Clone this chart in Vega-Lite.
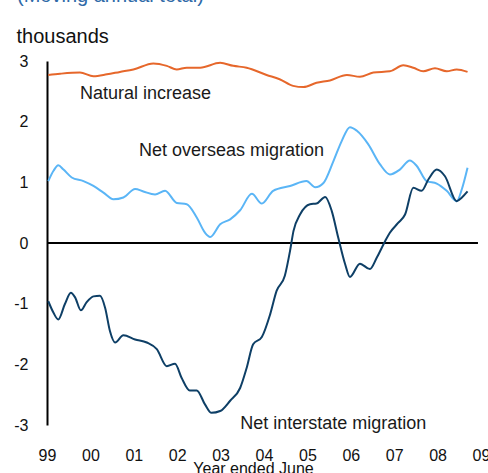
{
  "$schema": "https://vega.github.io/schema/vega-lite/v6.json",
  "width": 434,
  "height": 364,
  "autosize": {"type": "none"},
  "padding": {"left": 47, "top": 61, "right": 7, "bottom": 48},
  "background": "white",
  "config": {
    "view": {"stroke": null},
    "font": "Liberation Sans",
    "axis": {"grid": false, "ticks": false, "labelFont": "Liberation Sans", "titleFont": "Liberation Sans", "labelColor": "#111111", "titleColor": "#111111", "titleFontWeight": "normal", "labelFontSize": 16, "titleFontSize": 16}
  },
  "datasets": {
    "series": [
      {"t": 1999.03, "v": 2.77, "s": "Natural increase"},
      {"t": 1999.30, "v": 2.79, "s": "Natural increase"},
      {"t": 1999.76, "v": 2.81, "s": "Natural increase"},
      {"t": 2000.07, "v": 2.75, "s": "Natural increase"},
      {"t": 2000.38, "v": 2.78, "s": "Natural increase"},
      {"t": 2000.68, "v": 2.82, "s": "Natural increase"},
      {"t": 2000.99, "v": 2.86, "s": "Natural increase"},
      {"t": 2001.45, "v": 2.96, "s": "Natural increase"},
      {"t": 2001.76, "v": 2.92, "s": "Natural increase"},
      {"t": 2001.99, "v": 2.86, "s": "Natural increase"},
      {"t": 2002.22, "v": 2.89, "s": "Natural increase"},
      {"t": 2002.53, "v": 2.89, "s": "Natural increase"},
      {"t": 2002.99, "v": 2.97, "s": "Natural increase"},
      {"t": 2003.29, "v": 2.92, "s": "Natural increase"},
      {"t": 2003.60, "v": 2.89, "s": "Natural increase"},
      {"t": 2004.06, "v": 2.77, "s": "Natural increase"},
      {"t": 2004.36, "v": 2.70, "s": "Natural increase"},
      {"t": 2004.67, "v": 2.59, "s": "Natural increase"},
      {"t": 2004.91, "v": 2.57, "s": "Natural increase"},
      {"t": 2005.21, "v": 2.64, "s": "Natural increase"},
      {"t": 2005.52, "v": 2.68, "s": "Natural increase"},
      {"t": 2005.91, "v": 2.77, "s": "Natural increase"},
      {"t": 2006.21, "v": 2.74, "s": "Natural increase"},
      {"t": 2006.52, "v": 2.81, "s": "Natural increase"},
      {"t": 2006.90, "v": 2.83, "s": "Natural increase"},
      {"t": 2007.21, "v": 2.93, "s": "Natural increase"},
      {"t": 2007.44, "v": 2.89, "s": "Natural increase"},
      {"t": 2007.67, "v": 2.83, "s": "Natural increase"},
      {"t": 2007.94, "v": 2.88, "s": "Natural increase"},
      {"t": 2008.21, "v": 2.83, "s": "Natural increase"},
      {"t": 2008.44, "v": 2.86, "s": "Natural increase"},
      {"t": 2008.69, "v": 2.82, "s": "Natural increase"},

      {"t": 1999.03, "v": 1.02, "s": "Net overseas migration"},
      {"t": 1999.15, "v": 1.19, "s": "Net overseas migration"},
      {"t": 1999.26, "v": 1.28, "s": "Net overseas migration"},
      {"t": 1999.38, "v": 1.21, "s": "Net overseas migration"},
      {"t": 1999.57, "v": 1.08, "s": "Net overseas migration"},
      {"t": 1999.84, "v": 1.02, "s": "Net overseas migration"},
      {"t": 2000.07, "v": 0.94, "s": "Net overseas migration"},
      {"t": 2000.30, "v": 0.83, "s": "Net overseas migration"},
      {"t": 2000.53, "v": 0.72, "s": "Net overseas migration"},
      {"t": 2000.76, "v": 0.75, "s": "Net overseas migration"},
      {"t": 2001.03, "v": 0.89, "s": "Net overseas migration"},
      {"t": 2001.22, "v": 0.85, "s": "Net overseas migration"},
      {"t": 2001.49, "v": 0.80, "s": "Net overseas migration"},
      {"t": 2001.72, "v": 0.86, "s": "Net overseas migration"},
      {"t": 2001.99, "v": 0.66, "s": "Net overseas migration"},
      {"t": 2002.22, "v": 0.64, "s": "Net overseas migration"},
      {"t": 2002.45, "v": 0.42, "s": "Net overseas migration"},
      {"t": 2002.64, "v": 0.17, "s": "Net overseas migration"},
      {"t": 2002.76, "v": 0.10, "s": "Net overseas migration"},
      {"t": 2002.99, "v": 0.31, "s": "Net overseas migration"},
      {"t": 2003.22, "v": 0.39, "s": "Net overseas migration"},
      {"t": 2003.45, "v": 0.54, "s": "Net overseas migration"},
      {"t": 2003.72, "v": 0.81, "s": "Net overseas migration"},
      {"t": 2003.95, "v": 0.65, "s": "Net overseas migration"},
      {"t": 2004.21, "v": 0.86, "s": "Net overseas migration"},
      {"t": 2004.60, "v": 0.94, "s": "Net overseas migration"},
      {"t": 2004.98, "v": 1.02, "s": "Net overseas migration"},
      {"t": 2005.18, "v": 0.92, "s": "Net overseas migration"},
      {"t": 2005.37, "v": 0.99, "s": "Net overseas migration"},
      {"t": 2005.60, "v": 1.35, "s": "Net overseas migration"},
      {"t": 2005.79, "v": 1.68, "s": "Net overseas migration"},
      {"t": 2005.98, "v": 1.91, "s": "Net overseas migration"},
      {"t": 2006.14, "v": 1.85, "s": "Net overseas migration"},
      {"t": 2006.40, "v": 1.63, "s": "Net overseas migration"},
      {"t": 2006.67, "v": 1.30, "s": "Net overseas migration"},
      {"t": 2006.90, "v": 1.13, "s": "Net overseas migration"},
      {"t": 2007.13, "v": 1.21, "s": "Net overseas migration"},
      {"t": 2007.36, "v": 1.36, "s": "Net overseas migration"},
      {"t": 2007.52, "v": 1.27, "s": "Net overseas migration"},
      {"t": 2007.75, "v": 1.02, "s": "Net overseas migration"},
      {"t": 2007.98, "v": 0.98, "s": "Net overseas migration"},
      {"t": 2008.21, "v": 0.86, "s": "Net overseas migration"},
      {"t": 2008.44, "v": 0.69, "s": "Net overseas migration"},
      {"t": 2008.56, "v": 0.89, "s": "Net overseas migration"},
      {"t": 2008.69, "v": 1.24, "s": "Net overseas migration"},

      {"t": 1999.03, "v": -0.96, "s": "Net interstate migration"},
      {"t": 1999.15, "v": -1.15, "s": "Net interstate migration"},
      {"t": 1999.26, "v": -1.26, "s": "Net interstate migration"},
      {"t": 1999.41, "v": -1.01, "s": "Net interstate migration"},
      {"t": 1999.55, "v": -0.82, "s": "Net interstate migration"},
      {"t": 1999.65, "v": -0.90, "s": "Net interstate migration"},
      {"t": 1999.78, "v": -1.11, "s": "Net interstate migration"},
      {"t": 1999.91, "v": -0.98, "s": "Net interstate migration"},
      {"t": 2000.07, "v": -0.88, "s": "Net interstate migration"},
      {"t": 2000.22, "v": -0.87, "s": "Net interstate migration"},
      {"t": 2000.34, "v": -1.07, "s": "Net interstate migration"},
      {"t": 2000.45, "v": -1.45, "s": "Net interstate migration"},
      {"t": 2000.57, "v": -1.64, "s": "Net interstate migration"},
      {"t": 2000.76, "v": -1.52, "s": "Net interstate migration"},
      {"t": 2001.03, "v": -1.59, "s": "Net interstate migration"},
      {"t": 2001.30, "v": -1.64, "s": "Net interstate migration"},
      {"t": 2001.53, "v": -1.75, "s": "Net interstate migration"},
      {"t": 2001.76, "v": -2.03, "s": "Net interstate migration"},
      {"t": 2001.95, "v": -1.99, "s": "Net interstate migration"},
      {"t": 2002.10, "v": -2.22, "s": "Net interstate migration"},
      {"t": 2002.29, "v": -2.43, "s": "Net interstate migration"},
      {"t": 2002.45, "v": -2.43, "s": "Net interstate migration"},
      {"t": 2002.64, "v": -2.66, "s": "Net interstate migration"},
      {"t": 2002.79, "v": -2.80, "s": "Net interstate migration"},
      {"t": 2002.99, "v": -2.77, "s": "Net interstate migration"},
      {"t": 2003.22, "v": -2.60, "s": "Net interstate migration"},
      {"t": 2003.45, "v": -2.39, "s": "Net interstate migration"},
      {"t": 2003.60, "v": -2.06, "s": "Net interstate migration"},
      {"t": 2003.75, "v": -1.67, "s": "Net interstate migration"},
      {"t": 2003.95, "v": -1.55, "s": "Net interstate migration"},
      {"t": 2004.14, "v": -1.18, "s": "Net interstate migration"},
      {"t": 2004.29, "v": -0.79, "s": "Net interstate migration"},
      {"t": 2004.48, "v": -0.54, "s": "Net interstate migration"},
      {"t": 2004.60, "v": -0.13, "s": "Net interstate migration"},
      {"t": 2004.68, "v": 0.20, "s": "Net interstate migration"},
      {"t": 2004.83, "v": 0.47, "s": "Net interstate migration"},
      {"t": 2005.06, "v": 0.64, "s": "Net interstate migration"},
      {"t": 2005.21, "v": 0.65, "s": "Net interstate migration"},
      {"t": 2005.41, "v": 0.76, "s": "Net interstate migration"},
      {"t": 2005.56, "v": 0.53, "s": "Net interstate migration"},
      {"t": 2005.71, "v": 0.09, "s": "Net interstate migration"},
      {"t": 2005.87, "v": -0.35, "s": "Net interstate migration"},
      {"t": 2005.98, "v": -0.56, "s": "Net interstate migration"},
      {"t": 2006.21, "v": -0.34, "s": "Net interstate migration"},
      {"t": 2006.44, "v": -0.43, "s": "Net interstate migration"},
      {"t": 2006.60, "v": -0.24, "s": "Net interstate migration"},
      {"t": 2006.79, "v": 0.03, "s": "Net interstate migration"},
      {"t": 2006.90, "v": 0.17, "s": "Net interstate migration"},
      {"t": 2007.09, "v": 0.33, "s": "Net interstate migration"},
      {"t": 2007.25, "v": 0.47, "s": "Net interstate migration"},
      {"t": 2007.44, "v": 0.91, "s": "Net interstate migration"},
      {"t": 2007.63, "v": 0.86, "s": "Net interstate migration"},
      {"t": 2007.79, "v": 1.05, "s": "Net interstate migration"},
      {"t": 2007.98, "v": 1.21, "s": "Net interstate migration"},
      {"t": 2008.17, "v": 1.10, "s": "Net interstate migration"},
      {"t": 2008.44, "v": 0.69, "s": "Net interstate migration"},
      {"t": 2008.56, "v": 0.75, "s": "Net interstate migration"},
      {"t": 2008.69, "v": 0.85, "s": "Net interstate migration"}
    ]
  },
  "layer": [
    {
      "data": {"values": [{}]},
      "mark": {"type": "rule", "stroke": "#000000", "strokeWidth": 2},
      "encoding": {
        "x": {"datum": 1999, "type": "quantitative"},
        "x2": {"datum": 2008.93},
        "y": {"datum": 0, "type": "quantitative"}
      }
    },
    {
      "data": {"name": "series"},
      "mark": {"type": "line", "interpolate": "monotone", "strokeWidth": 2},
      "encoding": {
        "x": {
          "field": "t", "type": "quantitative",
          "scale": {"domain": [1999, 2009], "nice": false, "zero": false},
          "axis": {
            "values": [1999, 2000, 2001, 2002, 2003, 2004, 2005, 2006, 2007, 2008, 2009],
            "labelExpr": "substring(toString(datum.value), 2)",
            "domain": false,
            "labelPadding": 22,
            "labelFlush": false,
            "labelOverlap": false,
            "title": "Year ended  June",
            "titleX": 206,
            "titleY": 35,
            "titleBaseline": "top"
          }
        },
        "y": {
          "field": "v", "type": "quantitative",
          "scale": {"domain": [-3, 3], "nice": false},
          "axis": {
            "values": [-3, -2, -1, 0, 1, 2, 3],
            "labelExpr": "toString(datum.value)",
            "domain": true,
            "domainColor": "#000000",
            "domainWidth": 2,
            "labelPadding": 19,
            "title": "thousands",
            "titleAngle": 0,
            "titleAlign": "left",
            "titleBaseline": "middle",
            "titleX": -31,
            "titleY": -25,
            "titleFontSize": 20
          }
        },
        "color": {
          "field": "s", "type": "nominal",
          "scale": {
            "domain": ["Natural increase", "Net overseas migration", "Net interstate migration"],
            "range": ["#e6672b", "#5ab5f6", "#0e3f66"]
          },
          "legend": null
        }
      }
    },
    {
      "data": {"values": [{}]},
      "mark": {"type": "text", "align": "left", "baseline": "middle", "fontSize": 18, "color": "#1a1a1a"},
      "encoding": {
        "x": {"datum": 1999.76, "type": "quantitative"},
        "y": {"datum": 2.46, "type": "quantitative"},
        "text": {"value": "Natural increase"}
      }
    },
    {
      "data": {"values": [{}]},
      "mark": {"type": "text", "align": "left", "baseline": "middle", "fontSize": 18, "color": "#1a1a1a"},
      "encoding": {
        "x": {"datum": 2001.12, "type": "quantitative"},
        "y": {"datum": 1.52, "type": "quantitative"},
        "text": {"value": "Net overseas migration"}
      }
    },
    {
      "data": {"values": [{}]},
      "mark": {"type": "text", "align": "left", "baseline": "middle", "fontSize": 18, "color": "#1a1a1a"},
      "encoding": {
        "x": {"datum": 2003.45, "type": "quantitative"},
        "y": {"datum": -2.98, "type": "quantitative"},
        "text": {"value": "Net interstate migration"}
      }
    },
    {
      "data": {"values": [{}]},
      "mark": {"type": "text", "align": "left", "baseline": "alphabetic", "fontSize": 20, "color": "#2f6aa8"},
      "encoding": {
        "x": {"datum": 1998.31, "type": "quantitative"},
        "y": {"datum": 3.972, "type": "quantitative"},
        "text": {"value": "(Moving annual total)"}
      }
    }
  ]
}
